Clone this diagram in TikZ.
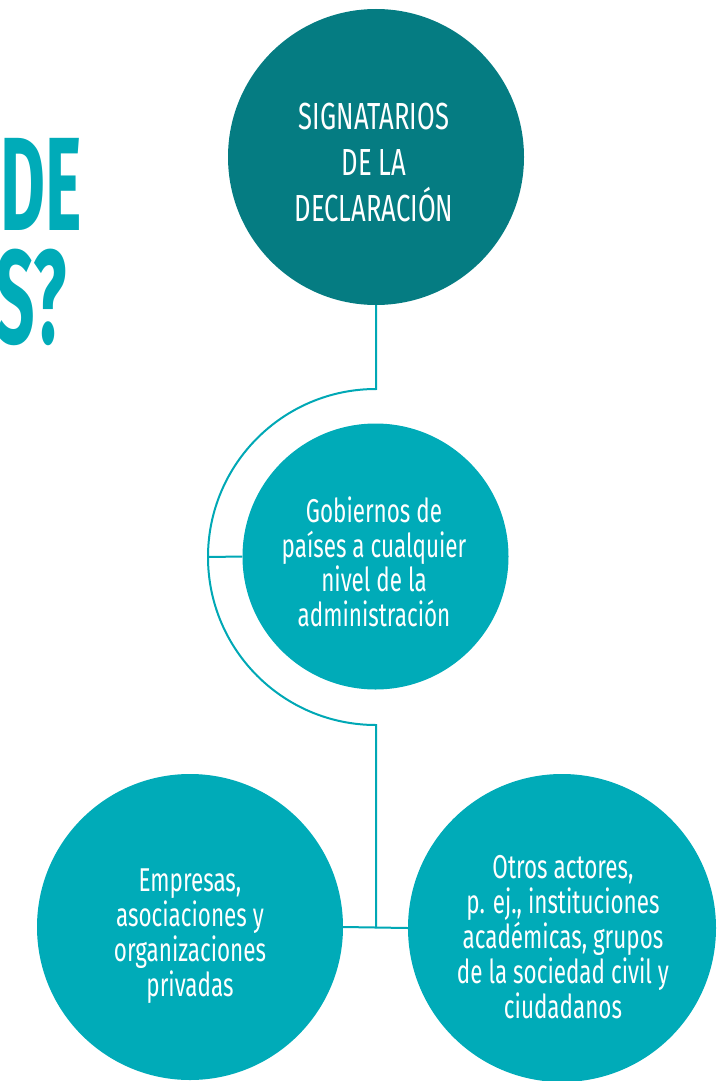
\documentclass[tikz,border=0pt]{standalone}
\usepackage{fontspec}
\newfontfamily\cond[FakeStretch=0.68]{Fira Sans}
\newfontfamily\titlef[FakeStretch=0.52]{Fira Sans}
\definecolor{darkteal}{RGB}{5,124,130}
\definecolor{teal}{RGB}{0,171,184}
\definecolor{lineteal}{RGB}{0,168,181}
\tikzset{
  circ/.style={circle, fill=#1, draw=none, inner sep=0pt},
  lbl/.style={text=white, align=center, inner sep=0pt},
  conn/.style={draw=lineteal, line width=2pt},
  ttl/.style={text=teal, inner sep=0pt, text height=92pt, text depth=0pt,
    font=\titlef\bfseries\fontsize{133}{133}\selectfont}
}
\begin{document}
\begin{tikzpicture}[x=1pt,y=-1pt]
\useasboundingbox (0,0) rectangle (725,1081);
\clip (0,0) rectangle (725,1081);
% title fragments
\node[ttl, anchor=base east] (t1) at (82,230) {DE};
\node[ttl, anchor=base east] (t2) at (67,343) {S?};
% circles
\node[circ=darkteal, minimum size=296pt] (sig) at (376,157) {};
\node[circ=teal, minimum size=266pt] (gob) at (375.5,556.5) {};
\node[circ=teal, minimum size=306pt] (emp) at (190,927) {};
\node[circ=teal, minimum size=308pt] (otr) at (562,928) {};
% labels
\node[lbl, font=\cond\fontsize{37.7}{46}\selectfont] (sigt) at (374,163) {SIGNATARIOS\\DE LA\\DECLARACIÓN};
\node[lbl, font=\cond\fontsize{33}{34.5}\selectfont] (gobt) at (374,562) {Gobiernos de\\países a cualquier\\nivel de la\\administración};
\node[lbl, font=\cond\fontsize{33}{35}\selectfont] (empt) at (190,936) {Empresas,\\asociaciones y\\organizaciones\\privadas};
\node[lbl, font=\cond\fontsize{33}{35}\selectfont] (otrt) at (563,937) {Otros actores,\\p. ej., instituciones\\académicas, grupos\\de la sociedad civil y\\ciudadanos};
% connectors
\coordinate (a1) at (376,389);
\coordinate (a2) at (376,725);
\coordinate (al) at (208,557);
\coordinate (j) at (376,928);
\draw[conn] (sig.south -| a1) -- (a1) arc[start angle=90, end angle=270, radius=168pt] -- (j);
\draw[conn] (al) -- (gob.west);
\draw[conn] (emp.east) -- (otr.west);
\end{tikzpicture}
\end{document}
